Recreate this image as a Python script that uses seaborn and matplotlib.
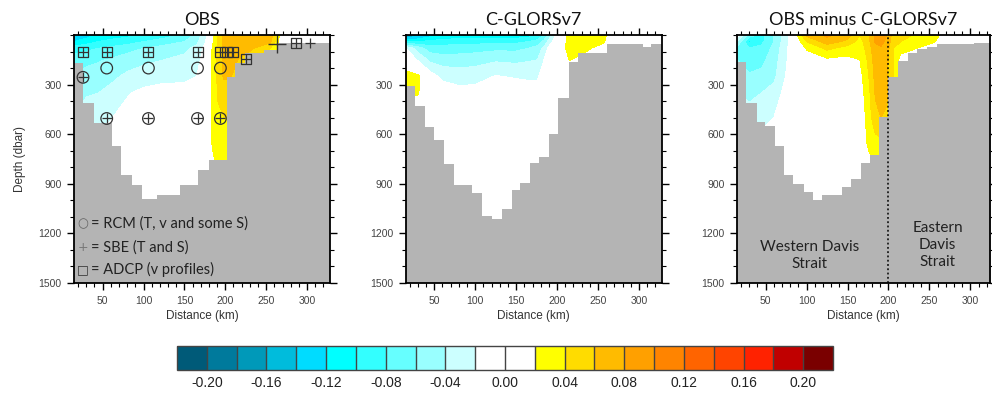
import numpy as np
import pandas as pd
import matplotlib
matplotlib.use("Agg")
import matplotlib.pyplot as plt
import seaborn as sns
from matplotlib.colors import ListedColormap, BoundaryNorm
from matplotlib.cm import ScalarMappable
from matplotlib.ticker import MultipleLocator

sns.set_theme(style="ticks")
plt.rcParams['font.family'] = ['Liberation Sans', 'DejaVu Sans']

# ---------------- data ----------------
titles = ["OBS", "C-GLORSv7", "OBS minus C-GLORSv7"]

dist = [15, 30, 45, 60, 80, 100, 125, 150, 165, 176, 184, 191, 198, 206, 215, 235, 255, 270, 295, 328]
depth = [0, 40, 80, 150, 250, 350, 500, 650, 800, 1000, 1500]

v_obs = [
    [-0.15, -0.13, -0.115, -0.11, -0.105, -0.10, -0.09, -0.075, -0.055, -0.025, 0.01, 0.04, 0.065, 0.075, 0.075, 0.078, 0.072, 0.0, 0.0, 0.0],
    [-0.12, -0.11, -0.10, -0.095, -0.09, -0.08, -0.07, -0.06, -0.045, -0.02, 0.015, 0.042, 0.065, 0.07, 0.07, 0.07, 0.065, 0.0, 0.0, 0.0],
    [-0.09, -0.085, -0.08, -0.075, -0.068, -0.06, -0.052, -0.045, -0.035, -0.012, 0.021, 0.045, 0.065, 0.068, 0.065, 0.06, 0.04, 0.0, 0.0, 0.0],
    [-0.07, -0.066, -0.062, -0.058, -0.05, -0.045, -0.04, -0.035, -0.028, -0.008, 0.022, 0.045, 0.065, 0.066, 0.06, 0.05, 0.03, 0.0, 0.0, 0.0],
    [-0.06, -0.052, -0.05, -0.045, -0.036, -0.03, -0.026, -0.025, -0.02, -0.004, 0.022, 0.045, 0.062, 0.062, 0.05, 0.04, 0.02, 0.0, 0.0, 0.0],
    [-0.05, -0.042, -0.04, -0.034, -0.022, -0.015, -0.012, -0.012, -0.009, 0.0, 0.022, 0.042, 0.05, 0.05, 0.04, 0.03, 0.01, 0.0, 0.0, 0.0],
    [-0.04, -0.03, -0.026, -0.021, -0.012, -0.008, -0.005, -0.005, -0.003, 0.004, 0.022, 0.036, 0.04, 0.04, 0.03, 0.02, 0.0, 0.0, 0.0, 0.0],
    [-0.03, -0.02, -0.015, -0.012, -0.008, -0.005, -0.003, -0.002, 0.0, 0.004, 0.021, 0.03, 0.03, 0.03, 0.02, 0.01, 0.0, 0.0, 0.0, 0.0],
    [-0.02, -0.012, -0.01, -0.008, -0.005, -0.003, -0.002, -0.001, 0.0, 0.003, 0.016, 0.022, 0.022, 0.02, 0.01, 0.0, 0.0, 0.0, 0.0, 0.0],
    [-0.01, -0.006, -0.005, -0.004, -0.002, -0.001, 0.0, 0.0, 0.0, 0.0, 0.005, 0.01, 0.01, 0.01, 0.0, 0.0, 0.0, 0.0, 0.0, 0.0],
    [0.0] * 20,
]

v_model = [
    [-0.17, -0.15, -0.13, -0.12, -0.115, -0.115, -0.115, -0.115, -0.11, -0.10, -0.08, -0.05, -0.02, 0.0, 0.03, 0.035, 0.03, 0.0, 0.0, 0.0],
    [-0.10, -0.10, -0.095, -0.09, -0.088, -0.088, -0.085, -0.085, -0.08, -0.072, -0.055, -0.03, -0.01, 0.005, 0.032, 0.032, 0.025, 0.0, 0.0, 0.0],
    [-0.02, -0.05, -0.07, -0.072, -0.07, -0.068, -0.065, -0.065, -0.06, -0.052, -0.035, -0.012, 0.0, 0.01, 0.03, 0.025, 0.01, 0.0, 0.0, 0.0],
    [0.0, -0.022, -0.045, -0.05, -0.05, -0.048, -0.043, -0.045, -0.042, -0.04, -0.02, 0.0, 0.0, 0.005, 0.021, 0.01, 0.0, 0.0, 0.0, 0.0],
    [0.03, 0.025, -0.01, -0.025, -0.03, -0.028, -0.019, -0.022, -0.024, -0.024, -0.006, 0.0, 0.0, 0.0, 0.0, 0.0, 0.0, 0.0, 0.0, 0.0],
    [0.025, 0.022, 0.0, -0.008, -0.012, -0.012, -0.008, -0.008, -0.008, -0.008, 0.0, 0.0, 0.0, 0.0, 0.0, 0.0, 0.0, 0.0, 0.0, 0.0],
    [0.0, 0.0, 0.0, -0.003, -0.004, -0.004, -0.003, -0.003, -0.003, -0.003, 0.0, 0.0, 0.0, 0.0, 0.0, 0.0, 0.0, 0.0, 0.0, 0.0],
    [0.0] * 20,
    [0.0] * 20,
    [0.0] * 20,
    [0.0] * 20,
]

v_diff = [
    [-0.01, -0.07, -0.085, -0.06, -0.015, 0.065, 0.085, 0.07, 0.04, 0.06, 0.085, 0.09, 0.08, 0.05, 0.045, 0.038, 0.03, 0.01, 0.0, 0.0],
    [-0.04, -0.105, -0.085, -0.06, -0.015, 0.04, 0.07, 0.055, 0.032, 0.055, 0.082, 0.085, 0.075, 0.045, 0.04, 0.032, 0.022, 0.005, 0.0, 0.0],
    [-0.065, -0.08, -0.075, -0.055, -0.014, 0.022, 0.045, 0.03, 0.028, 0.05, 0.075, 0.078, 0.07, 0.04, 0.03, 0.02, 0.01, 0.0, 0.0, 0.0],
    [-0.06, -0.068, -0.065, -0.05, -0.013, 0.01, 0.016, 0.015, 0.02, 0.045, 0.07, 0.072, 0.065, 0.04, 0.01, 0.005, 0.0, 0.0, 0.0, 0.0],
    [-0.05, -0.058, -0.055, -0.045, -0.01, 0.0, 0.0, 0.0, 0.012, 0.04, 0.066, 0.068, 0.062, 0.04, 0.0, 0.0, 0.0, 0.0, 0.0, 0.0],
    [-0.04, -0.045, -0.04, -0.032, -0.006, 0.0, 0.0, 0.0, 0.008, 0.035, 0.062, 0.066, 0.062, 0.03, 0.0, 0.0, 0.0, 0.0, 0.0, 0.0],
    [-0.03, -0.032, -0.028, -0.02, -0.002, 0.0, 0.0, 0.0, 0.004, 0.03, 0.055, 0.06, 0.058, 0.02, 0.0, 0.0, 0.0, 0.0, 0.0, 0.0],
    [-0.02, -0.015, -0.012, -0.008, 0.0, 0.0, 0.0, 0.0, 0.002, 0.025, 0.032, 0.035, 0.03, 0.01, 0.0, 0.0, 0.0, 0.0, 0.0, 0.0],
    [-0.01, -0.005, -0.004, -0.002, 0.0, 0.0, 0.0, 0.0, 0.0, 0.01, 0.018, 0.02, 0.02, 0.005, 0.0, 0.0, 0.0, 0.0, 0.0, 0.0],
    [0.0] * 20,
    [0.0] * 20,
]

# bathymetry: step starts (km) and bottom depth (dbar)
bath_obs_x = [15, 26, 39, 61, 73, 86, 98, 116, 145, 167, 180, 202, 212, 224, 247, 263]
bath_obs_z = [170, 410, 535, 670, 845, 905, 990, 970, 905, 818, 758, 255, 170, 110, 90, 50]
bath_model_x = [15, 26.8, 38.2, 50, 61.4, 73.6, 96, 108, 120, 132.5, 144.7, 155, 167, 178.5, 190.7, 201.7, 214, 226, 260.5, 305, 315]
bath_model_z = [309, 430, 555, 636, 782, 909, 955, 1097, 1113, 1050, 935, 895, 774, 737, 596, 380, 162, 111, 57, 70, 57]
bath_diff_x = [15, 26.4, 39.4, 49.6, 61.8, 72.8, 84, 96.3, 107.7, 118.7, 143, 154, 166, 177.7, 189, 200, 212, 224.4, 234.6, 246.8, 259, 304]
bath_diff_z = [162, 414, 525, 551, 671, 844, 899, 950, 996, 970, 919, 873, 772, 727, 495, 253, 158, 111, 87, 71, 57, 51]

# instruments (OBS panel)
adcp_x = [26, 55, 106, 167, 194, 202, 210, 225, 287]
adcp_z = [105, 105, 105, 105, 105, 105, 105, 147, 50]
rcm_x = [55, 106, 166, 194, 26, 55, 106, 166, 194]
rcm_z = [200, 200, 200, 200, 256, 505, 505, 505, 505]
sbe_x = [26, 55, 106, 167, 194, 202, 210, 225, 287, 26, 55, 106, 166, 194, 304]
sbe_z = [105, 105, 105, 105, 105, 105, 105, 147, 50, 256, 505, 505, 505, 505, 50]
sbe_big_x = [263]
sbe_big_z = [52]

palette = ['#005a78', '#007a9c', '#0099b9', '#00bcdc', '#00dcff', '#00ffff',
           '#33ffff', '#66ffff', '#99ffff', '#ccffff', '#ffffff', '#ffffff',
           '#ffff00', '#ffdc00', '#ffbb00', '#ffa000', '#ff8400', '#ff6400',
           '#ff4400', '#ff2200', '#c00000', '#7a0000']
levels = [round(-0.20 + 0.02 * i, 2) for i in range(21)]
cbar_ticks = [-0.20, -0.16, -0.12, -0.08, -0.04, 0.00, 0.04, 0.08, 0.12, 0.16, 0.20]

XMAX = 328
GRAY = '#b4b4b4'

# ---------------- figure ----------------
W, H = 992, 395
fig = plt.figure(figsize=(W / 100, H / 100), dpi=100)
fig.patch.set_facecolor('white')

panels = [(74, 330), (405.5, 662), (737, 990)]
top_px, bot_px = 35, 283
fields = [v_obs, v_model, v_diff]
baths = [(bath_obs_x, bath_obs_z), (bath_model_x, bath_model_z), (bath_diff_x, bath_diff_z)]

title_font = ['Lato', 'DejaVu Sans']
tick_color = '#444444'

for i, (l, r) in enumerate(panels):
    ax = fig.add_axes([l / W, (H - bot_px) / H, (r - l) / W, (bot_px - top_px) / H])
    ax.set_facecolor('white')
    xmax = XMAX if i < 2 else 324
    ax.contourf(dist, depth, np.array(fields[i]), levels=[-1.0] + levels + [1.0],
                colors=palette, zorder=1)
    bx, bz = baths[i]
    ax.fill_between(list(bx) + [XMAX], list(bz) + [bz[-1]], 1500, step='post',
                    color=GRAY, lw=0, zorder=2)
    ax.set_xlim(15, xmax)
    ax.set_ylim(1500, 0)
    ax.xaxis.set_major_locator(MultipleLocator(50))
    ax.xaxis.set_minor_locator(MultipleLocator(10))
    ax.set_yticks([300, 600, 900, 1200, 1500])
    ax.yaxis.set_minor_locator(MultipleLocator(100))
    ax.tick_params(which='both', direction='out', top=True, right=True,
                   labeltop=False, labelright=False, color='black',
                   labelcolor=tick_color, labelsize=7.5)
    ax.tick_params(which='major', length=5, width=1, pad=4)
    ax.tick_params(which='minor', length=3, width=0.8)
    for sp in ax.spines.values():
        sp.set_linewidth(1.3)
        sp.set_color('black')
        sp.set_zorder(6)
    ax.set_xlabel('Distance (km)', fontsize=8.5, color='#333333', labelpad=3)
    if i == 0:
        ax.set_ylabel('Depth (dbar)', fontsize=8.5, color='#333333', labelpad=9)
    ax.set_title(titles[i], fontsize=13, family=title_font, color='#111111', pad=7)

    if i == 0:
        kw = dict(ax=ax, legend=False, zorder=4)
        sns.scatterplot(x=adcp_x, y=adcp_z, marker='s', s=52, facecolor='none',
                        edgecolor='#333333', linewidth=0.9, **kw)
        sns.scatterplot(x=rcm_x, y=rcm_z, marker='o', s=70, facecolor='none',
                        edgecolor='#333333', linewidth=0.9, **kw)
        sns.scatterplot(x=sbe_x, y=sbe_z, marker='+', s=45, color='#333333',
                        linewidth=0.9, **kw)
        sns.scatterplot(x=sbe_big_x, y=sbe_big_z, marker='+', s=160, color='#333333',
                        linewidth=1.0, **kw)
        leg = [('\u25cb', '= RCM (T, v and some S)', 1140, '#666666'),
               ('+', '= SBE (T and S)', 1285, '#777777'),
               ('\u25a1', '= ADCP (v profiles)', 1420, '#333333')]
        for sym, txt, yy, c in leg:
            ax.text(26, yy, sym, ha='center', va='center', fontsize=9,
                    color=c, family=['DejaVu Sans'], zorder=5)
            ax.text(35.5, yy, txt, ha='left', va='center', fontsize=10.5,
                    color='#222222', family=title_font, zorder=5)
    if i == 2:
        ax.axvline(200, ls=(0, (1.2, 1.6)), color='black', lw=1.1, zorder=5)
        ax.text(104, 1335, 'Western Davis\nStrait', ha='center', va='center',
                fontsize=11, family=title_font, color='#222222',
                linespacing=1.25, zorder=5)
        ax.text(260, 1270, 'Eastern\nDavis\nStrait', ha='center', va='center',
                fontsize=11, family=title_font, color='#222222',
                linespacing=1.25, zorder=5)

# colorbar
cax = fig.add_axes([177 / W, (H - 369.5) / H, 656 / W, 23.5 / H])
bounds = [-0.22] + levels + [0.22]
sm = ScalarMappable(norm=BoundaryNorm(bounds, len(palette)), cmap=ListedColormap(palette))
cb = fig.colorbar(sm, cax=cax, orientation='horizontal', ticks=cbar_ticks, drawedges=True)
cb.minorticks_off()
cb.ax.set_xticklabels(['%.2f' % t for t in cbar_ticks])
cb.ax.xaxis.set_tick_params(which='both', length=0, width=0, labelsize=10, pad=5,
                            labelcolor='#222222')
cb.outline.set_edgecolor('#444444')
cb.outline.set_linewidth(1.0)
cb.dividers.set_color('#444444')
cb.dividers.set_linewidth(1.0)

fig.savefig('out.png', dpi=100)
